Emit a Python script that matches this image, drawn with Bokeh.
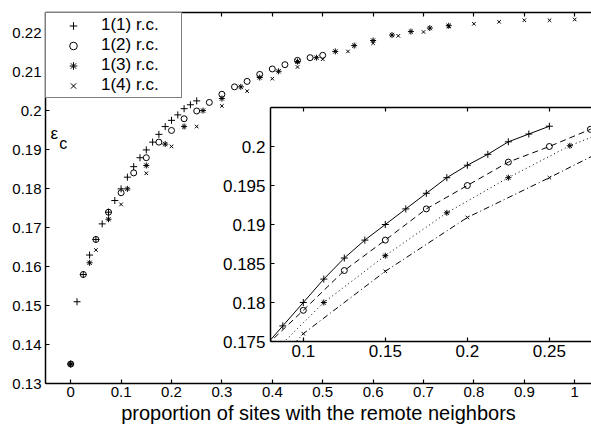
from bokeh.plotting import figure
from bokeh.models import Range1d, FixedTicker, Legend, LegendItem, Label, LinearAxis
from bokeh.layouts import column
from bokeh.embed import file_html
from bokeh.resources import INLINE

FONT = "Liberation Sans"

# ---- data: four series, 1(n) r.c. ----
x1 = [0, 0.0125, 0.025, 0.0375, 0.05, 0.0625, 0.075, 0.0875, 0.1, 0.1125, 0.125,
      0.1375, 0.15, 0.1625, 0.175, 0.1875, 0.2, 0.2125, 0.225, 0.2375, 0.25]
y1 = [0.135, 0.151, 0.158, 0.163, 0.167, 0.171, 0.174, 0.177, 0.180, 0.183, 0.1857,
      0.188, 0.190, 0.192, 0.194, 0.196, 0.1976, 0.199, 0.2006, 0.2016, 0.2026]
x2 = [0, 0.025, 0.05, 0.075, 0.1, 0.125, 0.15, 0.175, 0.2, 0.225, 0.25,
      0.275, 0.3, 0.325, 0.35, 0.375, 0.4, 0.425, 0.45, 0.475, 0.5]
y2 = [0.135, 0.158, 0.167, 0.174, 0.179, 0.1841, 0.188, 0.192, 0.195, 0.198, 0.2,
      0.2022, 0.2043, 0.2062, 0.2076, 0.2094, 0.2108, 0.2119, 0.213, 0.2137, 0.2143]
x3 = [0, 0.0375, 0.075, 0.1125, 0.15, 0.1875, 0.225, 0.2625, 0.3, 0.3375, 0.375,
      0.4125, 0.45, 0.4875, 0.525, 0.5625, 0.6, 0.6375, 0.675, 0.7125, 0.75]
y3 = [0.135, 0.161, 0.1722, 0.180, 0.186, 0.1915, 0.196, 0.2001, 0.2032, 0.2062, 0.2086,
      0.2102, 0.2127, 0.2137, 0.2153, 0.2168, 0.2181, 0.2195, 0.2204, 0.2213, 0.2219]
x4 = [0, 0.05, 0.1, 0.15, 0.2, 0.25, 0.3, 0.35, 0.4, 0.45, 0.5,
      0.55, 0.6, 0.65, 0.7, 0.75, 0.8, 0.85, 0.9, 0.95, 1.0]
y4 = [0.135, 0.1643, 0.176, 0.184, 0.1909, 0.196, 0.2013, 0.2051, 0.2083, 0.2113, 0.2133,
      0.2153, 0.2174, 0.2193, 0.2203, 0.2217, 0.2224, 0.2229, 0.2233, 0.2233, 0.2235]

series_labels = ["1(1) r.c.", "1(2) r.c.", "1(3) r.c.", "1(4) r.c."]

x_ticks = [0, 0.1, 0.2, 0.3, 0.4, 0.5, 0.6, 0.7, 0.8, 0.9, 1.0]
x_tick_labels = ["0", "0.1", "0.2", "0.3", "0.4", "0.5", "0.6", "0.7", "0.8", "0.9", "1"]
y_ticks = [0.13, 0.14, 0.15, 0.16, 0.17, 0.18, 0.19, 0.2, 0.21, 0.22]
y_tick_labels = ["0.13", "0.14", "0.15", "0.16", "0.17", "0.18", "0.19", "0.2", "0.21", "0.22"]

inset_x_ticks = [0.1, 0.15, 0.2, 0.25]
inset_x_tick_labels = ["0.1", "0.15", "0.2", "0.25"]
inset_y_ticks = [0.175, 0.18, 0.185, 0.19, 0.195, 0.2]
inset_y_tick_labels = ["0.175", "0.18", "0.185", "0.19", "0.195", "0.2"]

x_label = "proportion of sites with the remote neighbors"

markers = ["cross", "circle", "asterisk", "x"]
msizes = [7, 6, 6, 5]
dashes = ["solid", "6 4", "1 3", "6 3 1 3"]
xs = [x1, x2, x3, x4]
ys = [y1, y2, y3, y4]


def style_axis(ax, size):
    ax.axis_line_color = "black"
    ax.axis_line_width = 1.5
    ax.major_tick_in = 4
    ax.major_tick_out = 0
    ax.minor_tick_in = 0
    ax.minor_tick_out = 0
    ax.major_tick_line_color = "black"
    ax.major_tick_line_width = 1.2
    ax.minor_tick_line_color = None
    ax.major_label_text_font = FONT
    ax.major_label_text_font_size = size
    ax.major_label_text_color = "black"


def bare_axis(ax):
    ax.axis_label = None
    ax.axis_label_standoff = 0
    ax.axis_label_text_font_size = "0px"


# ---- main figure ----
p = figure(width=601, height=427, x_range=Range1d(-0.05, 1.0333), y_range=Range1d(0.13, 0.2253),
           x_axis_type=None, y_axis_type=None, output_backend="svg", toolbar_location=None,
           min_border_left=55, min_border_right=0, min_border_top=12, min_border_bottom=44,
           background_fill_color="white", border_fill_color="white", outline_line_color=None)

bx = LinearAxis(ticker=FixedTicker(ticks=x_ticks),
                major_label_overrides=dict(zip(x_ticks, x_tick_labels)))
style_axis(bx, "15px")
bx.major_label_standoff = 3
bx.axis_label = x_label
bx.axis_label_text_font = FONT
bx.axis_label_text_font_size = "20px"
bx.axis_label_text_font_style = "normal"
bx.axis_label_text_color = "black"
bx.axis_label_standoff = 2
p.add_layout(bx, "below")

ly = LinearAxis(ticker=FixedTicker(ticks=y_ticks),
                major_label_overrides=dict(zip(y_ticks, y_tick_labels)))
style_axis(ly, "15px")
bare_axis(ly)
ly.major_label_standoff = 4
p.add_layout(ly, "left")

tx = LinearAxis(ticker=FixedTicker(ticks=x_ticks))
style_axis(tx, "0px")
bare_axis(tx)
tx.major_label_standoff = 0
tx.major_label_text_alpha = 0
p.add_layout(tx, "above")

items = []
for xv, yv, m, s, lab in zip(xs, ys, markers, msizes, series_labels):
    r = p.scatter(xv, yv, marker=m, size=s, line_color="black", fill_color=None, line_width=1)
    items.append(LegendItem(label=lab, renderers=[r]))

legend = Legend(items=items, location="top_left", margin=0, padding=2, spacing=0,
                glyph_width=50, glyph_height=19, label_height=19, label_width=78,
                label_standoff=3, border_line_color="black", border_line_width=1.5,
                background_fill_color="white", background_fill_alpha=1,
                label_text_font=FONT, label_text_font_size="17px", label_text_color="black",
                label_text_line_height=1.0)
p.add_layout(legend)

p.add_layout(Label(x=-0.040, y=0.1918, text="ε", text_font=FONT, text_font_size="17px",
                   text_color="black"))
p.add_layout(Label(x=-0.0225, y=0.1895, text="c", text_font=FONT, text_font_size="16px",
                   text_color="black"))

p.styles = {"position": "absolute", "left": "0px", "top": "0px"}

# ---- inset figure ----
q = figure(width=376, height=260, x_range=Range1d(0.08, 0.2757), y_range=Range1d(0.175, 0.205),
           x_axis_type=None, y_axis_type=None, output_backend="svg", toolbar_location=None,
           min_border_left=55, min_border_right=0, min_border_top=2, min_border_bottom=24,
           background_fill_color="white", border_fill_color=None, outline_line_color=None)

ibx = LinearAxis(ticker=FixedTicker(ticks=inset_x_ticks),
                 major_label_overrides=dict(zip(inset_x_ticks, inset_x_tick_labels)))
style_axis(ibx, "17px")
bare_axis(ibx)
ibx.major_label_standoff = 3
q.add_layout(ibx, "below")

ily = LinearAxis(ticker=FixedTicker(ticks=inset_y_ticks),
                 major_label_overrides=dict(zip(inset_y_ticks, inset_y_tick_labels)))
style_axis(ily, "17px")
bare_axis(ily)
ily.major_label_standoff = 5
q.add_layout(ily, "left")

itx = LinearAxis(ticker=FixedTicker(ticks=inset_x_ticks))
style_axis(itx, "0px")
bare_axis(itx)
itx.major_label_standoff = 0
itx.major_label_text_alpha = 0
q.add_layout(itx, "above")

for xv, yv, m, s, d in zip(xs, ys, markers, msizes, dashes):
    q.line(xv, yv, line_color="black", line_width=1, line_dash=d)
    q.scatter(xv, yv, marker=m, size=s, line_color="black", fill_color=None, line_width=1)

q.styles = {"position": "absolute", "left": "225px", "top": "105px"}

layout = column(p, q, width=601, height=427,
                styles={"position": "absolute", "left": "-10px", "top": "0px"})

open("out.html", "w").write(file_html(layout, INLINE))
